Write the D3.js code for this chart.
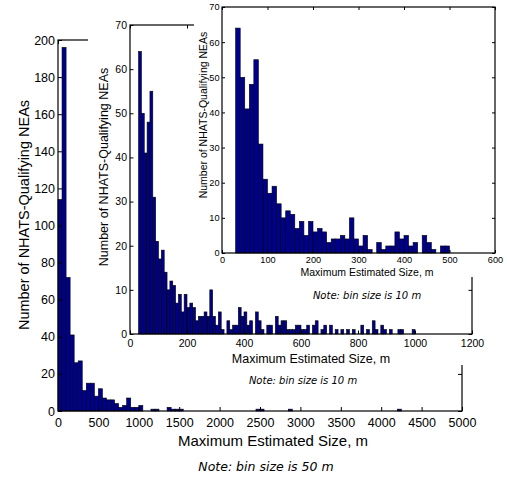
<!DOCTYPE html>
<html>
<head>
<meta charset="utf-8">
<script src="https://cdn.jsdelivr.net/npm/d3@7/dist/d3.min.js"></script>
<style>
body { margin: 0; background: #fff; }
text { font-family: "Liberation Sans", Arial, sans-serif; fill: #000; }
.note { font-family: "DejaVu Sans", sans-serif; font-style: italic; }
</style>
</head>
<body>
<div id="chart"></div>
<script>
// counts per 50 m bin, starting at 0 m (main plot)
var bigCounts = [114, 196, 72, 41, 26, 27, 11, 15, 15, 8,
  12, 7, 6, 6, 4, 2, 3, 7, 2, 2,
  3, 0, 0, 1, 1, 0, 0, 2, 1, 1,
  1, 0, 0, 0, 0, 0, 0, 0, 0, 0,
  0, 0, 0, 0, 0, 0, 0, 0, 0, 1,
  1, 0, 0, 0, 0, 0, 0, 1, 0, 0,
  0, 0, 0, 0, 0, 0, 0, 0, 0, 0,
  0, 0, 0, 0, 0, 0, 0, 0, 0, 0,
  0, 0, 0, 0, 1];

// counts per 10 m bin, 0 - 1000 m (first inset)
var midCounts = [0, 0, 0, 64, 50, 41, 48, 55, 31, 21,
  17, 19, 14, 10, 12, 11, 7, 9, 5, 9,
  6, 7, 6, 3, 4, 4, 5, 4, 10, 4,
  2, 5, 1, 0, 3, 1, 2, 2, 6, 4,
  5, 2, 3, 0, 5, 3, 1, 0, 2, 2,
  0, 4, 2, 3, 3, 1, 1, 1, 2, 2,
  1, 1, 2, 0, 2, 3, 0, 1, 2, 0,
  2, 0, 1, 0, 1, 0, 1, 0, 1, 0,
  0, 2, 0, 1, 0, 3, 1, 0, 2, 1,
  0, 1, 0, 0, 1, 1, 0, 0, 0, 1];

// counts per 10 m bin, 0 - 500 m (second inset)
var smallCounts = [0, 0, 0, 64, 50, 41, 48, 55, 31, 21,
  17, 19, 14, 10, 12, 11, 7, 9, 5, 9,
  6, 7, 6, 3, 4, 4, 5, 4, 10, 4,
  2, 5, 1, 0, 3, 1, 2, 2, 6, 4,
  5, 2, 3, 0, 5, 3, 1, 0, 2, 2];

var bigXTicks = [0, 500, 1000, 1500, 2000, 2500, 3000, 3500, 4000, 4500, 5000];
var bigYTicks = [0, 20, 40, 60, 80, 100, 120, 140, 160, 180, 200];
var midXTicks = [0, 200, 400, 600, 800, 1000, 1200];
var midYTicks = [0, 10, 20, 30, 40, 50, 60, 70];
var smallXTicks = [0, 100, 200, 300, 400, 500, 600];
var smallYTicks = [0, 10, 20, 30, 40, 50, 60, 70];

var yTitle = "Number of NHATS-Qualifying NEAs";
var xTitle = "Maximum Estimated Size,  m";

var svg = d3.select("#chart")
  .append("svg")
  .attr("width", 507)
  .attr("height", 480);

function drawPanel(p, counts, bin, xTicks, yTicks, note) {
  if (p.cover) {
    svg.append("rect")
      .attr("x", p.cover[0]).attr("y", p.cover[1])
      .attr("width", p.cover[2]).attr("height", p.cover[3])
      .attr("fill", "#fff");
  }
  var g = svg.append("g");

  var x = d3.scaleLinear()
    .domain([xTicks[0], xTicks[xTicks.length - 1]])
    .range([p.left, p.right]);
  var y = d3.scaleLinear()
    .domain([yTicks[0], yTicks[yTicks.length - 1]])
    .range([p.bottom, p.top]);

  // bars
  g.selectAll("rect.bar")
    .data(counts)
    .enter()
    .append("rect")
    .attr("class", "bar")
    .attr("x", (d, i) => x(i * bin))
    .attr("width", x(bin) - x(0))
    .attr("y", d => y(d))
    .attr("height", d => y(0) - y(d))
    .attr("fill", "#00008f")
    .attr("stroke", "#000")
    .attr("stroke-width", 0.6);

  // axes, ticks pointing inward
  var fmt = d3.format("d");
  var bottom = g.append("g")
    .attr("transform", `translate(0,${p.bottom})`)
    .call(d3.axisBottom(x).tickValues(xTicks).tickFormat(fmt).tickSizeInner(-p.tick).tickSizeOuter(0).tickPadding(p.xPad));
  var left = g.append("g")
    .attr("transform", `translate(${p.left},0)`)
    .call(d3.axisLeft(y).tickValues(yTicks).tickFormat(fmt).tickSizeInner(-p.tick).tickSizeOuter(0).tickPadding(p.yPad));
  g.append("g")
    .attr("transform", `translate(0,${p.top})`)
    .call(d3.axisTop(x).tickValues(xTicks).tickSizeInner(-p.tick).tickSizeOuter(0).tickFormat(""));
  g.append("g")
    .attr("transform", `translate(${p.right},0)`)
    .call(d3.axisRight(y).tickValues(yTicks).tickSizeInner(-p.tick).tickSizeOuter(0).tickFormat(""));

  g.selectAll(".domain").remove();
  g.selectAll(".tick line").attr("stroke", "#000");
  [bottom, left].forEach(a => a.selectAll("text")
    .attr("font-size", p.tickFont)
    .attr("font-family", "Liberation Sans, Arial, sans-serif"));

  // frame
  g.append("rect")
    .attr("x", p.left).attr("y", p.top)
    .attr("width", p.right - p.left).attr("height", p.bottom - p.top)
    .attr("fill", "none")
    .attr("stroke", "#000")
    .attr("stroke-width", 1.2);

  g.append("text")
    .attr("x", p.xLab[0]).attr("y", p.xLab[1])
    .attr("text-anchor", "middle")
    .attr("font-size", p.labFont)
    .text(xTitle);

  g.append("text")
    .attr("transform", `translate(${p.yLab[0]},${p.yLab[1]}) rotate(-90)`)
    .attr("text-anchor", "middle")
    .attr("font-size", p.yLabFont)
    .text(yTitle);

  g.append("text")
    .attr("class", "note")
    .attr("x", p.note[0]).attr("y", p.note[1])
    .attr("text-anchor", "middle")
    .attr("font-size", p.noteFont)
    .text(note);
}

drawPanel({
  left: 58, right: 462, top: 40, bottom: 411, tick: 4,
  xPad: 7, yPad: 3, tickFont: 12.5, labFont: 15, yLabFont: 14.5, noteFont: 12.5,
  xLab: [273, 446], yLab: [29, 215], note: [266, 471]
}, bigCounts, 50, bigXTicks, bigYTicks, "Note: bin size is 50 m");

drawPanel({
  cover: [88, 0, 392, 365],
  left: 130, right: 472, top: 25, bottom: 334, tick: 3.5,
  xPad: 5.5, yPad: 3, tickFont: 10.5, labFont: 12.5, yLabFont: 12.5, noteFont: 10,
  xLab: [311, 363], yLab: [108, 167], note: [303, 384]
}, midCounts, 10, midXTicks, midYTicks, "Note: bin size is 10 m");

drawPanel({
  cover: [194, 0, 313, 277],
  left: 222, right: 495, top: 7, bottom: 253, tick: 3,
  xPad: 3.5, yPad: 2.5, tickFont: 9.2, labFont: 10.5, yLabFont: 10.5, noteFont: 10,
  xLab: [367, 276], yLab: [207, 115], note: [367, 299]
}, smallCounts, 10, smallXTicks, smallYTicks, "Note: bin size is 10 m");
</script>
</body>
</html>
